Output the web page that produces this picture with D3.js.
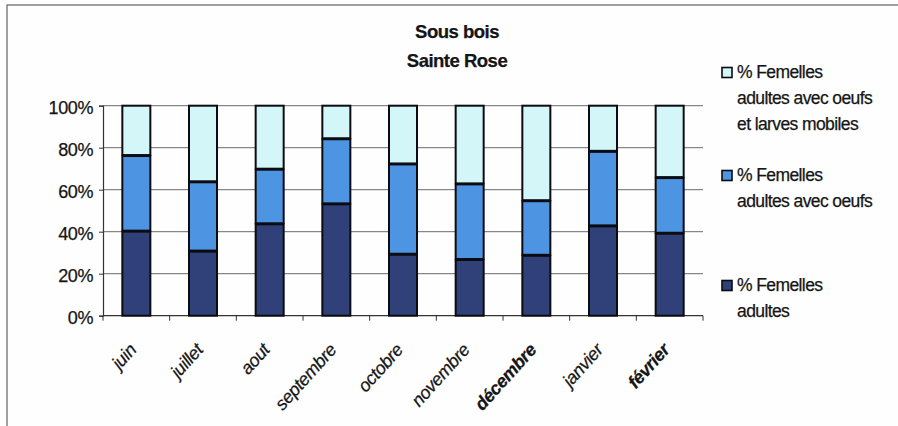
<!DOCTYPE html>
<html>
<head>
<meta charset="utf-8">
<script src="https://cdn.jsdelivr.net/npm/d3@7"></script>
<style>
  html, body { margin: 0; padding: 0; background: #fefefe; }
  svg { display: block; font-family: "Liberation Sans", Arial, sans-serif; }
  svg text { stroke: #151515; stroke-width: 0.25px; }
</style>
</head>
<body>
<svg id="chart" width="898" height="426"></svg>
<script>
// Monthly share of female stages, Sous bois – Sainte Rose
const months = ["juin", "juillet", "aout", "septembre", "octobre", "novembre", "décembre", "janvier", "février"];
const adultes = [40.5, 31, 44, 53.5, 29.5, 27, 29, 43, 39.5];
const avecOeufs = [36, 33, 26, 31, 43, 36, 26, 35.5, 26.5];
const avecOeufsLarves = [23.5, 36, 30, 15.5, 27.5, 37, 45, 21.5, 34];
const seriesNames = [
  "% Femelles adultes avec oeufs et larves mobiles",
  "% Femelles adultes avec oeufs",
  "% Femelles adultes"
];
const yTicks = [0, 20, 40, 60, 80, 100];
const titleLines = ["Sous bois", "Sainte Rose"];

const svg = d3.select("#chart");
const ink = "#151515";
const colors = { adultes: "#2f4178", avecOeufs: "#4d95e2", avecOeufsLarves: "#d3f6f9" };
const boldMonths = new Set(["décembre", "février"]);

// outer chart frame (only top and left edges fall inside the page)
svg.append("rect")
  .attr("x", 7).attr("y", 5).attr("width", 960).attr("height", 500)
  .attr("fill", "none").attr("stroke", "#6e6e6e").attr("stroke-width", 1.3);

const plotLeft = 103, plotRight = 703, plotTop = 105.7, plotBottom = 315.7;

const x = d3.scaleBand().domain(months).range([plotLeft, plotRight])
  .paddingInner(0.58).paddingOuter(0.29);
const y = d3.scaleLinear().domain([0, 100]).range([plotBottom, plotTop]);

// title
svg.append("g").selectAll("text").data(titleLines).join("text")
  .attr("x", 457).attr("y", (d, i) => 38 + i * 28.5)
  .attr("text-anchor", "middle")
  .attr("font-size", 18.5).attr("font-weight", "bold")
  .attr("letter-spacing", -0.5)
  .attr("fill", ink)
  .text(d => d);

// horizontal gridlines
svg.append("g").selectAll("line").data(yTicks.filter(d => d > 0)).join("line")
  .attr("x1", plotLeft).attr("x2", plotRight)
  .attr("y1", d => y(d)).attr("y2", d => y(d))
  .attr("stroke", "#6a6a6a").attr("stroke-width", 1);

// y axis
const yAxis = svg.append("g")
  .attr("transform", `translate(${plotLeft},0)`)
  .call(d3.axisLeft(y).tickValues(yTicks).tickFormat(d => d + "%").tickSize(4).tickPadding(6));
yAxis.select(".domain").attr("stroke", "#333").attr("stroke-width", 1.2);
yAxis.selectAll(".tick line").attr("stroke", "#333");
yAxis.selectAll(".tick text")
  .attr("font-size", 18).attr("font-family", "Liberation Sans, Arial, sans-serif")
  .attr("letter-spacing", -0.4)
  .attr("fill", ink).attr("dy", "0.42em");

// x axis line with ticks on category boundaries
const step = x.step();
const gap = (step - x.bandwidth()) / 2;
const xg = svg.append("g");
xg.append("line")
  .attr("x1", plotLeft).attr("x2", plotRight).attr("y1", plotBottom).attr("y2", plotBottom)
  .attr("stroke", "#333").attr("stroke-width", 1.2);
const boundaries = months.map(m => x(m) - gap).concat([x(months[months.length - 1]) + x.bandwidth() + gap]);
xg.selectAll("line.tk").data(boundaries).join("line")
  .attr("class", "tk")
  .attr("x1", d => d).attr("x2", d => d)
  .attr("y1", plotBottom).attr("y2", plotBottom + 5)
  .attr("stroke", "#333");

// x labels, rotated
xg.selectAll("text").data(months).join("text")
  .attr("transform", d => `translate(${x(d) + x.bandwidth() / 2 + 1},${plotBottom + 35}) rotate(-48)`)
  .attr("text-anchor", "end")
  .attr("font-size", 18).attr("font-style", "italic")
  .attr("font-weight", d => boldMonths.has(d) ? "bold" : "normal")
  .attr("letter-spacing", -0.4)
  .attr("fill", ink)
  .text(d => d);

// stacked bars
const table = months.map((m, i) => ({
  month: m, adultes: adultes[i], avecOeufs: avecOeufs[i], avecOeufsLarves: avecOeufsLarves[i]
}));
const keys = ["adultes", "avecOeufs", "avecOeufsLarves"];
const stacked = d3.stack().keys(keys)(table);

svg.append("g").selectAll("g").data(stacked).join("g")
  .attr("fill", s => colors[s.key])
  .selectAll("rect").data(s => s).join("rect")
  .attr("x", d => x(d.data.month))
  .attr("width", x.bandwidth())
  .attr("y", d => y(d[1]) + (d[1] < 100 ? 1 : 0))
  .attr("height", d => Math.max(0, y(d[0]) - y(d[1]) - (d[1] < 100 ? 1 : 0)))
  .attr("stroke", "#0b0b12").attr("stroke-width", 2);

// legend
const legendItems = [
  { key: "avecOeufsLarves", lines: ["% Femelles", "adultes avec oeufs", "et larves mobiles"], y0: 78 },
  { key: "avecOeufs", lines: ["% Femelles", "adultes avec oeufs"], y0: 181 },
  { key: "adultes", lines: ["% Femelles", "adultes"], y0: 291 }
];
const lg = svg.append("g").selectAll("g").data(legendItems).join("g");
lg.append("rect")
  .attr("x", 722).attr("y", d => d.y0 - 10.5)
  .attr("width", 10).attr("height", 10)
  .attr("fill", d => colors[d.key])
  .attr("stroke", "#0b0b12").attr("stroke-width", 1.6);
lg.each(function (d) {
  d3.select(this).selectAll("text").data(d.lines).join("text")
    .attr("x", 737)
    .attr("y", (t, i) => d.y0 + i * 26)
    .attr("font-size", 17.5).attr("fill", ink)
    .attr("letter-spacing", -0.6)
    .text(t => t);
});
</script>
</body>
</html>
